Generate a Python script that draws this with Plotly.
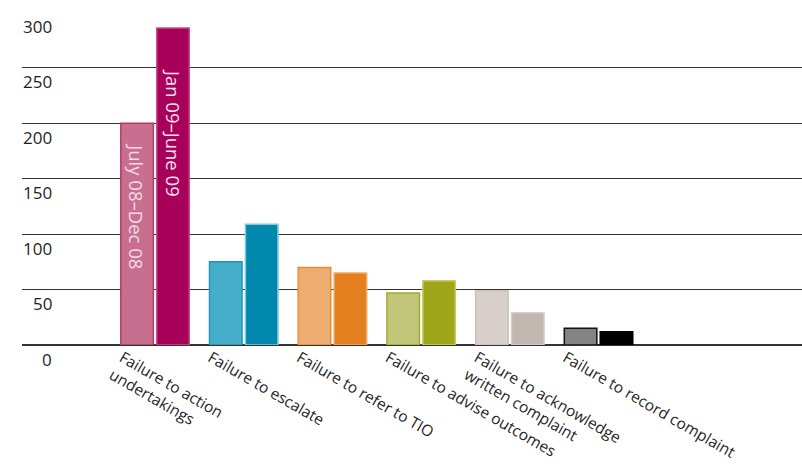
import plotly.graph_objects as go

# Complaint categories (x axis)
categories = [
    "Failure to action<br>undertakings",
    "Failure to escalate",
    "Failure to refer to TIO",
    "Failure to advise outcomes",
    "Failure to acknowledge<br>written complaint",
    "Failure to record complaint",
]

# Number of complaints per half-year period
period_names = ["July 08\u2013Dec 08", "Jan 09\u2013June 09"]
jul_dec_08 = [200, 75, 70, 47, 49, 15]
jan_jun_09 = [286, 109, 65, 58, 29, 12]

# Colours: one lighter and one darker shade per category
fill_first = ["#C86E8E", "#44AECB", "#EEAC70", "#C2C678", "#D8CFCB", "#838383"]
edge_first = ["#B23A6C", "#1E96B8", "#E58D3A", "#A6AA2C", "#CBC0BB", "#111111"]
fill_second = ["#A8005A", "#0088AD", "#E5801F", "#A0A61A", "#C2B7B0", "#000000"]
edge_second = ["#C4508A", "#7FC8DD", "#F2A866", "#C8CC6A", "#D6CEC9", "#000000"]

# Y axis ticks
y_ticks = [0, 50, 100, 150, 200, 250, 300]
y_tick_labels = ["0", "50", "100", "150", "200", "250", "300"]

font_family = "Open Sans"
text_color = "#1e1e1e"

fig = go.Figure()
fig.add_trace(go.Bar(
    x=categories, y=jul_dec_08, name=period_names[0],
    marker=dict(color=fill_first, line=dict(color=edge_first, width=1.5)),
))
fig.add_trace(go.Bar(
    x=categories, y=jan_jun_09, name=period_names[1],
    marker=dict(color=fill_second, line=dict(color=edge_second, width=1.5)),
))

# Period names written vertically inside the first pair of bars,
# hanging down from the top of each bar
fig.add_annotation(
    x=categories[0], y=jul_dec_08[0], xref="x", yref="y",
    xanchor="center", yanchor="top", xshift=-18, yshift=-18,
    text=period_names[0], textangle=90, showarrow=False,
    font=dict(family=font_family, size=18.5, color="#F4DCE6"),
)
fig.add_annotation(
    x=categories[0], y=jan_jun_09[0], xref="x", yref="y",
    xanchor="center", yanchor="top", xshift=18, yshift=-39,
    text=period_names[1], textangle=90, showarrow=False,
    font=dict(family=font_family, size=18.5, color="#F7E1EC"),
)

# Y tick labels sit just below their gridlines
for v, lab in zip(y_ticks, y_tick_labels):
    fig.add_annotation(
        x=0, y=v, xref="paper", yref="y", xanchor="right", yanchor="middle",
        xshift=32, yshift=-14, text=lab, showarrow=False,
        font=dict(family=font_family, size=17, color=text_color),
    )

fig.update_layout(
    width=802, height=464,
    margin=dict(l=22, r=0, t=12, b=119, autoexpand=False),
    paper_bgcolor="white", plot_bgcolor="white",
    barmode="group", bargap=0.19, bargroupgap=0.094,
    showlegend=False,
    font=dict(family=font_family, color=text_color),
    xaxis=dict(
        type="category", range=[-1.5, 7.294], automargin=False,
        showgrid=False, showline=False, ticks="",
        tickangle=30, ticklabelshift=-33,
        tickfont=dict(family=font_family, size=15.5, color=text_color),
    ),
    yaxis=dict(
        range=[0, 300.4], tickvals=y_ticks, showticklabels=False,
        automargin=False,
        showgrid=True, gridcolor="#333333", gridwidth=1,
        zeroline=True, zerolinecolor="#333333", zerolinewidth=1.5,
        showline=False, ticks="",
    ),
)

fig.write_html("out.html")
